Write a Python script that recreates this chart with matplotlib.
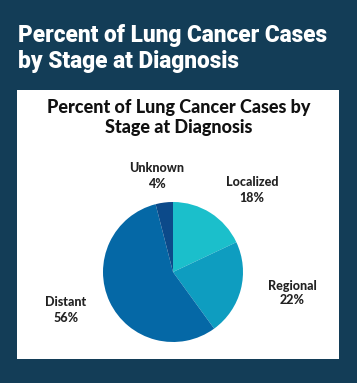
import matplotlib
matplotlib.use("Agg")
import matplotlib.pyplot as plt
from matplotlib.patches import Rectangle

categories = ["Localized", "Regional", "Distant", "Unknown"]
values = [18, 22, 56, 4]
colors = ["#1bbfcb", "#0e9dc0", "#0568a6", "#0c4a8a"]
title_lines = ["Percent of Lung Cancer Cases", "by Stage at Diagnosis"]
inner_title_lines = ["Percent of Lung Cancer Cases by", "Stage at Diagnosis"]

W, H = 357, 383
fig = plt.figure(figsize=(W / 100, H / 100), dpi=100)
fig.patch.set_facecolor("#133d57")

# White panel (background axes)
bg = fig.add_axes([0, 0, 1, 1], zorder=-1)
bg.set_xlim(0, W)
bg.set_ylim(H, 0)
bg.axis("off")
bg.add_patch(Rectangle((17, 90), 322, 269, facecolor="white", edgecolor="none"))

# Outer title
for txt, yb in zip(title_lines, [42, 68]):
    fig.text(18 / W, 1 - yb / H, txt, color="white",
             fontfamily="Roboto", fontweight="heavy", fontsize=16.3,
             va="baseline", ha="left")

# Inner title
for txt, yb in zip(inner_title_lines, [113, 132.5]):
    fig.text(179 / W, 1 - yb / H, txt, color="#111111",
             fontfamily="Lato", fontweight="black", fontsize=13,
             va="baseline", ha="center")

# Pie
cx, cy, r = 173, 272, 70
ax = fig.add_axes([(cx - r) / W, (H - cy - r) / H, 2 * r / W, 2 * r / H])
ax.pie(values, colors=colors, startangle=90, counterclock=False, radius=1,
       wedgeprops=dict(linewidth=0))
ax.set_xlim(-1, 1)
ax.set_ylim(-1, 1)
ax.set_aspect("equal")
ax.axis("off")

label_pos = {
    "Localized": (252, 190),
    "Regional": (292, 293),
    "Distant": (66, 310),
    "Unknown": (157, 176),
}
for cat, v in zip(categories, values):
    px, py = label_pos[cat]
    ax.text((px - cx) / r, (cy - py) / r, f"{cat}\n{v}%", ha="center", va="center",
            fontfamily="Lato", fontweight="black", fontsize=9, color="#222222",
            linespacing=1.3, clip_on=False)

fig.savefig("out.png", dpi=100, facecolor=fig.get_facecolor())
